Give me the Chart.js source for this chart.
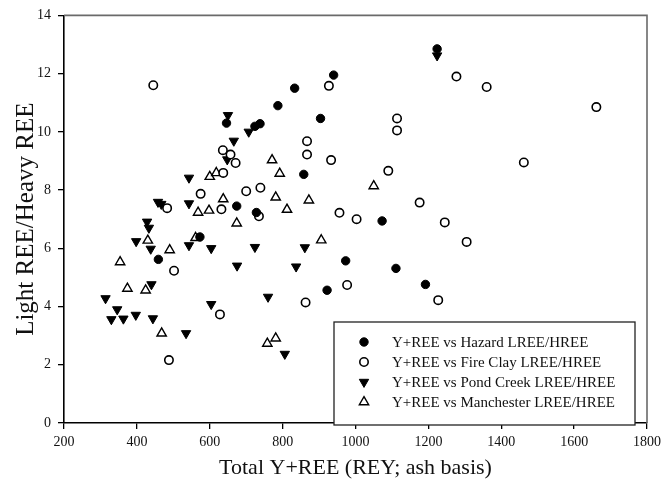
<!DOCTYPE html>
<html><head><meta charset="utf-8">
<script src="https://cdn.jsdelivr.net/npm/chart.js@4.4.1/dist/chart.umd.min.js"></script>
<style>html,body{margin:0;padding:0;background:#fff}canvas{display:block}</style>
</head><body>
<canvas id="c" width="666" height="497"></canvas>
<script>
const seriesNames = [
  'Y+REE vs Hazard LREE/HREE',
  'Y+REE vs Fire Clay LREE/HREE',
  'Y+REE vs Pond Creek LREE/HREE',
  'Y+REE vs Manchester LREE/HREE'
];
const hazardX = [459, 573, 646, 674, 724, 738, 728, 787, 833, 858, 904, 940, 922, 973, 1073, 1111, 1192, 1224];
const hazardY = [5.62, 6.39, 10.3, 7.45, 10.19, 10.28, 7.23, 10.9, 11.5, 8.54, 10.46, 11.95, 4.56, 5.57, 6.94, 5.31, 4.76, 12.85];

const fireClayX = [445, 927, 867, 867, 636, 657, 671, 933, 637, 575, 700, 739, 483, 632, 735, 956, 1003, 502, 977, 863, 628, 488, 1277, 1360, 1661, 1114, 1114, 1462, 1090, 1176, 1245, 1305, 1227];
const fireClayY = [11.6, 11.58, 9.68, 9.22, 9.37, 9.22, 8.93, 9.03, 8.59, 7.87, 7.96, 8.08, 7.38, 7.34, 7.1, 7.22, 7.0, 5.23, 4.74, 4.14, 3.73, 2.16, 11.9, 11.54, 10.85, 10.46, 10.05, 8.95, 8.66, 7.57, 6.89, 6.22, 4.22];

const pondCreekX = [650, 707, 666, 648, 543, 458, 467, 543, 428, 433, 398, 438, 543, 604, 724, 861, 675, 837, 440, 314, 346, 330, 363, 397, 444, 604, 760, 535, 806, 1224];
const pondCreekY = [10.57, 10.0, 9.69, 9.05, 8.42, 7.59, 7.52, 7.54, 6.91, 6.7, 6.24, 5.98, 6.1, 6.0, 6.04, 6.03, 5.4, 5.37, 4.76, 4.28, 3.9, 3.56, 3.58, 3.71, 3.59, 4.08, 4.33, 3.08, 2.37, 12.62];

const manchesterX = [771, 792, 600, 618, 637, 781, 872, 1050, 568, 598, 812, 674, 430, 490, 561, 906, 354, 374, 424, 468, 758, 781];
const manchesterY = [9.03, 8.57, 8.46, 8.59, 7.69, 7.75, 7.65, 8.14, 7.23, 7.3, 7.33, 6.86, 6.27, 5.94, 6.36, 6.28, 5.53, 4.62, 4.56, 3.08, 2.73, 2.91];

const xTickValues = [200, 400, 600, 800, 1000, 1200, 1400, 1600, 1800];
const yTickValues = [0, 2, 4, 6, 8, 10, 12, 14];

function pts(xs, ys) { return xs.map((x, i) => ({x: x, y: ys[i]})); }

const SERIF = '"Liberation Serif", "Times New Roman", serif';

const styles = [
  {pointStyle: 'circle', radius: 4.2, bg: '#000', border: '#000', rot: 0, bw: 1},
  {pointStyle: 'circle', radius: 4.2, bg: '#fff', border: '#000', rot: 0, bw: 1.6},
  {pointStyle: 'triangle', radius: 5.4, bg: '#000', border: '#000', rot: 180, bw: 1},
  {pointStyle: 'triangle', radius: 5.4, bg: '#fff', border: '#000', rot: 0, bw: 1.4}
];
const seriesData = [pts(hazardX, hazardY), pts(fireClayX, fireClayY), pts(pondCreekX, pondCreekY), pts(manchesterX, manchesterY)];

const datasets = seriesData.map((d, i) => ({
  label: seriesNames[i],
  data: d,
  showLine: false,
  pointStyle: styles[i].pointStyle,
  pointRadius: styles[i].radius,
  pointHoverRadius: styles[i].radius,
  pointRotation: styles[i].rot,
  pointBackgroundColor: styles[i].bg,
  pointBorderColor: styles[i].border,
  pointBorderWidth: styles[i].bw
}));

const framePlugin = {
  id: 'frame',
  beforeDatasetsDraw(chart) {
    const {ctx, chartArea: a} = chart;
    ctx.save();
    ctx.strokeStyle = '#6a6a6a';
    ctx.lineWidth = 1.6;
    ctx.beginPath();
    ctx.moveTo(a.left, a.top);
    ctx.lineTo(a.right, a.top);
    ctx.lineTo(a.right, a.bottom);
    ctx.stroke();
    ctx.restore();
  }
};

const legendPlugin = {
  id: 'boxLegend',
  afterDraw(chart) {
    const ctx = chart.ctx;
    const box = {l: 334, t: 322, r: 635, b: 425};
    const rows = [342, 362, 382, 402];
    ctx.save();
    ctx.fillStyle = '#fff';
    ctx.fillRect(box.l, box.t, box.r - box.l, box.b - box.t);
    ctx.strokeStyle = '#222';
    ctx.lineWidth = 1.3;
    ctx.strokeRect(box.l, box.t, box.r - box.l, box.b - box.t);
    chart.data.datasets.forEach((ds, i) => {
      ctx.fillStyle = ds.pointBackgroundColor;
      ctx.strokeStyle = ds.pointBorderColor;
      ctx.lineWidth = ds.pointBorderWidth;
      Chart.helpers.drawPoint(ctx, {
        pointStyle: ds.pointStyle,
        rotation: ds.pointRotation,
        radius: ds.pointRadius,
        borderWidth: ds.pointBorderWidth
      }, 364, rows[i]);
    });
    ctx.fillStyle = '#111';
    ctx.font = '15px ' + SERIF;
    ctx.textBaseline = 'middle';
    ctx.textAlign = 'left';
    chart.data.datasets.forEach((ds, i) => {
      ctx.fillText(ds.label, 392, rows[i] + 1);
    });
    ctx.restore();
  }
};

new Chart(document.getElementById('c'), {
  type: 'scatter',
  data: {datasets: datasets},
  options: {
    responsive: false,
    animation: false,
    devicePixelRatio: 1,
    layout: {padding: {top: 15, right: 18, left: 0, bottom: 0}},
    plugins: {legend: {display: false}, tooltip: {enabled: false}},
    scales: {
      x: {
        type: 'linear',
        min: 200, max: 1800,
        afterBuildTicks(scale) { scale.ticks = xTickValues.map(v => ({value: v})); },
        afterFit(scale) { scale.height = 74; },
        border: {display: true, color: '#000', width: 1.6},
        grid: {display: true, drawOnChartArea: false, drawTicks: true, tickLength: 6, color: '#000', lineWidth: 1.3},
        ticks: {color: '#111', font: {family: SERIF, size: 14}, padding: 5, maxRotation: 0, autoSkip: false,
                callback: (v) => String(v)},
        title: {display: true, text: 'Total Y+REE (REY; ash basis)', color: '#111', font: {family: SERIF, size: 22}, padding: {top: 0, bottom: 16}}
      },
      y: {
        type: 'linear',
        min: 0, max: 14,
        afterBuildTicks(scale) { scale.ticks = yTickValues.map(v => ({value: v})); },
        afterFit(scale) { scale.width = 64; },
        border: {display: true, color: '#000', width: 1.6},
        grid: {display: true, drawOnChartArea: false, drawTicks: true, tickLength: 6, color: '#000', lineWidth: 1.3},
        ticks: {color: '#111', font: {family: SERIF, size: 14}, padding: 7, autoSkip: false,
                callback: (v) => String(v)},
        title: {display: true, text: 'Light REE/Heavy REE', color: '#111', font: {family: SERIF, size: 25}, padding: {top: 11, bottom: 0}}
      }
    }
  },
  plugins: [framePlugin, legendPlugin]
});
</script>
</body></html>
